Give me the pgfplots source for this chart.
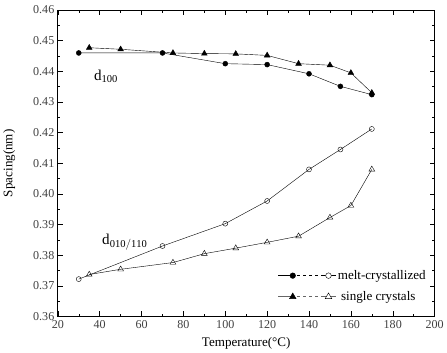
\documentclass[border=0pt]{standalone}
\usepackage{pgfplots}
\pgfplotsset{compat=1.18}
\usepackage{fontspec}
\setmainfont{Liberation Serif}
\begin{document}
\begin{tikzpicture}
\begin{axis}[
  name=ax,
  scale only axis,
  width=375pt, height=305pt,
  xmin=20, xmax=200, ymin=0.36, ymax=0.46,
  xtick={20,40,...,200},
  ytick={0.36,0.37,...,0.461},
  minor x tick num=1, minor y tick num=1,
  tick align=inside,
  tick style={black, thin},
  major tick length=5pt, minor tick length=2.5pt,
  /pgf/number format/assume math mode=true,
  yticklabel style={/pgf/number format/.cd, fixed, fixed zerofill, precision=2},
  xticklabel style={/pgf/number format/.cd, fixed, precision=0},
  ticklabel style={font=\fontsize{12}{14}\selectfont, text=black!75},
  xlabel={Temperature(°C)}, ylabel={Spacing(nm)},
  label style={font=\fontsize{13}{15}\selectfont},
  xlabel style={yshift=-2pt},
  ylabel style={yshift=11pt},
  axis line style={black, thick},
  legend style={draw=none, fill=none, at={(0.99,0.035)}, anchor=south east,
    font=\fontsize{13}{15}\selectfont, row sep=6pt},
  legend cell align=left,
]
% legend entries
\addlegendimage{legend image code/.code={
  \draw[black] (0,0) -- (0.45cm,0);
  \draw[black, dashed] (0.45cm,0) -- (1.6cm,0);
  \draw[black] (1.6cm,0) -- (2.0cm,0);
  \fill[black] (0.5cm,0) circle (2.8pt);
  \draw[black, fill=white] (1.75cm,0) circle (2.8pt);
}}
\addlegendentry{melt-crystallized}
\addlegendimage{legend image code/.code={
  \draw[black!60] (0,0) -- (0.45cm,0);
  \draw[black!60, dashed] (0.45cm,0) -- (1.6cm,0);
  \draw[black!60] (1.6cm,0) -- (2.0cm,0);
  \fill[black] (0.5cm-3.3pt,-2.4pt) -- (0.5cm+3.3pt,-2.4pt) -- (0.5cm,3.3pt) -- cycle;
  \draw[black, fill=white] (1.75cm-3.3pt,-2.4pt) -- (1.75cm+3.3pt,-2.4pt) -- (1.75cm,3.3pt) -- cycle;
}}
\addlegendentry{\ single crystals}
% d100 melt-crystallized
\addplot[black, thin, mark=*, mark size=2.5pt, forget plot] coordinates {
 (30,0.4460) (70,0.4460) (100,0.4425) (120,0.4422) (140,0.4392) (155,0.4351) (170,0.4324)};
% d100 single crystals
\addplot[black, thin, mark=triangle*, mark size=3.3pt, forget plot] coordinates {
 (35,0.4477) (50,0.4472) (75,0.4460) (90,0.4458) (105,0.4457) (120,0.4452) (135,0.4425) (150,0.4420) (160,0.4395) (170,0.4330)};
% d010/110 melt-crystallized
\addplot[black, thin, mark=o, mark size=2.5pt, mark options={fill=white}, forget plot] coordinates {
 (30,0.3722) (70,0.3830) (100,0.3903) (120,0.3977) (140,0.4080) (155,0.4145) (170,0.4212)};
% d010/110 single crystals
\addplot[black, thin, mark=triangle, mark size=3.3pt, mark options={fill=white}, forget plot] coordinates {
 (35,0.3737) (50,0.3754) (75,0.3776) (90,0.3805) (105,0.3823) (120,0.3842) (135,0.3862) (150,0.3923) (160,0.3962) (170,0.4080)};
\node[font=\fontsize{15}{17}\selectfont] at (axis cs:43,0.4385) {d$_{\mathrm{100}}$};
\node[font=\fontsize{15}{17}\selectfont] at (axis cs:52,0.3842) {d$_{\mathrm{010/110}}$};
\end{axis}
\path (ax.north west) ++(0,10pt) coordinate (topspace);
\end{tikzpicture}
\end{document}
